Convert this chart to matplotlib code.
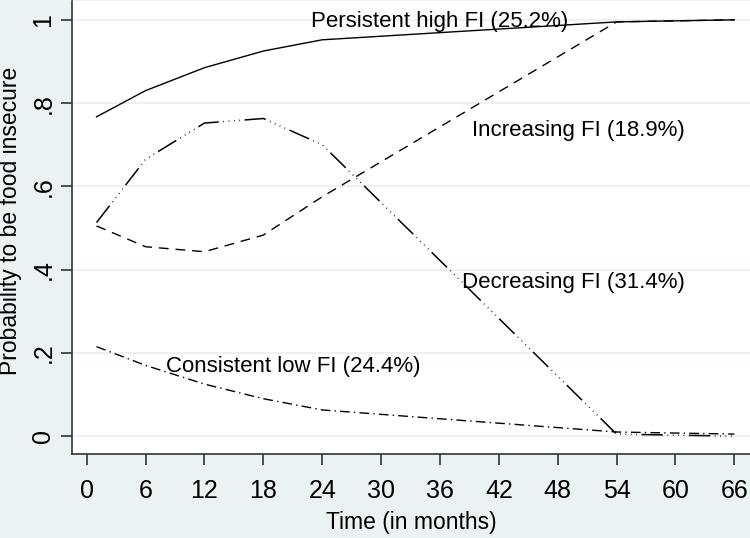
import matplotlib
matplotlib.use("Agg")
import matplotlib.pyplot as plt

months = [1, 6, 12, 18, 24, 54, 66]
persistent_high = [0.767, 0.830, 0.885, 0.925, 0.952, 0.995, 1.000]
increasing = [0.505, 0.455, 0.443, 0.483, 0.575, 0.995, 1.000]
decreasing = [0.513, 0.665, 0.752, 0.763, 0.700, 0.005, 0.000]
consistent_low = [0.215, 0.170, 0.125, 0.090, 0.063, 0.010, 0.005]

labels = ["Persistent high FI (25.2%)", "Increasing FI (18.9%)",
          "Decreasing FI (31.4%)", "Consistent low FI (24.4%)"]
label_pos = [(36.0, 0.995), (50.1, 0.734), (49.6, 0.369), (21.0, 0.168)]

xticks = list(range(0, 67, 6))
yticks = [0, 0.2, 0.4, 0.6, 0.8, 1.0]
yticklabels = ["0", ".2", ".4", ".6", ".8", "1"]

plt.rcParams['font.family'] = ['Liberation Sans', 'DejaVu Sans']
bg = "#EAF2F3"
fig = plt.figure(figsize=(7.5, 5.38), dpi=100, facecolor=bg)
ax = fig.add_axes([0.096, 0.156, 0.904, 0.842])
ax.set_facecolor("white")

ax.plot(months, persistent_high, color="black", lw=1.0, linestyle="-")
ax.plot(months, increasing, color="black", lw=1.0, linestyle=(0, (7, 5)))
ax.plot(months, decreasing, color="black", lw=1.1,
        linestyle=(0, (14, 3, 0.5, 3, 0.5, 3, 0.5, 3, 0.5, 3)))
ax.plot(months, consistent_low, color="black", lw=1.0, linestyle=(0, (7, 3, 1, 3)))

for lab, (x, y) in zip(labels, label_pos):
    ax.text(x, y, lab, fontsize=16, ha="center", va="center", color="black")

ax.set_xlim(-1.5, 67.6)
ax.set_ylim(-0.043, 1.045)
ax.set_xticks(xticks)
ax.set_yticks(yticks)
ax.set_yticklabels(yticklabels, rotation=90, va="center")
ax.tick_params(axis="both", labelsize=18, length=8, width=1.2, color="#333333", direction="out")
ax.tick_params(axis="x", pad=10)
ax.tick_params(axis="y", pad=4)
ax.grid(axis="y", color=bg, lw=1.5)
ax.set_axisbelow(True)
for s in ["top", "right"]:
    ax.spines[s].set_visible(False)
for s in ["left", "bottom"]:
    ax.spines[s].set_color("#333333")
    ax.spines[s].set_linewidth(1.2)
ax.set_xlabel("Time (in months)", fontsize=16.5, labelpad=6)
fig.text(11 / 750, 1 - 221 / 538, "Probability to be food insecure", fontsize=16.5,
         rotation=90, ha="center", va="center")

fig.savefig("out.png", dpi=100, facecolor=bg)
